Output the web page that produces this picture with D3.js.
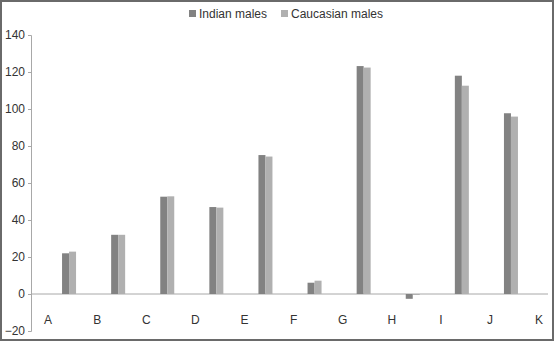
<!DOCTYPE html>
<html>
<head>
<meta charset="utf-8">
<script src="https://cdn.jsdelivr.net/npm/d3@7"></script>
<style>
  body { margin: 0; background: #fff; }
  text { font-family: "Liberation Sans", Arial, sans-serif; }
</style>
</head>
<body>
<div id="viz"></div>
<script>
const labels = ['A', 'B', 'C', 'D', 'E', 'F', 'G', 'H', 'I', 'J', 'K'];
const groups = ['A', 'B', 'C', 'D', 'E', 'F', 'G', 'H', 'I', 'J'];
const series = ['Indian males', 'Caucasian males'];
const indian = [22, 32, 52.6, 47, 75.1, 6.1, 123.2, -2.6, 118, 97.7];
const caucasian = [22.9, 32, 52.8, 46.7, 74.3, 7.2, 122.4, -0.5, 112.6, 95.9];
const yTicks = [-20, 0, 20, 40, 60, 80, 100, 120, 140];

const width = 554, height = 341;
const colors = d3.scaleOrdinal().domain(series).range(['#828282', '#b0b0b0']);

let svg = d3.select('#viz')
    .append('svg')
    .attr('width', width)
    .attr('height', height);

// frame
svg.append('rect')
    .attr('x', 1).attr('y', 1)
    .attr('width', width - 2).attr('height', height - 2)
    .attr('fill', '#fff')
    .attr('stroke', '#6a6a6a')
    .attr('stroke-width', 2);

let yScale = d3.scaleLinear()
    .domain([-20, 140])
    .range([331, 35]);

// label positions; bars sit to the right of each label
let xScale = d3.scaleBand()
    .domain(labels)
    .range([23.5, 23.5 + 49.1 * labels.length]);

let inner = d3.scaleBand()
    .domain(series)
    .range([14, 28]);

// y axis
let yAxis = d3.axisLeft(yScale)
    .tickValues(yTicks)
    .tickSize(3)
    .tickPadding(3);

let gy = svg.append('g')
    .attr('transform', 'translate(31,0)')
    .call(yAxis);
gy.select('.domain').attr('stroke', '#a8a8a8');
gy.selectAll('.tick line').attr('stroke', '#a8a8a8');
gy.selectAll('.tick text')
    .attr('fill', '#333')
    .style('font-size', '12px');

// zero line
svg.append('line')
    .attr('x1', 31).attr('x2', 548)
    .attr('y1', yScale(0)).attr('y2', yScale(0))
    .attr('stroke', '#a8a8a8');

const rows = groups.map((g, i) => ({ g: g, vals: [indian[i], caucasian[i]] }));

svg.selectAll('g.grp').data(rows)
    .enter()
    .append('g')
    .attr('class', 'grp')
    .attr('transform', (d) => 'translate(' + (xScale(d.g) + xScale.bandwidth() / 2) + ',0)')
    .selectAll('rect').data((d) => d.vals.map((v, j) => ({ s: series[j], v: v })))
    .enter()
    .append('rect')
    .attr('x', (d) => inner(d.s))
    .attr('width', inner.bandwidth())
    .attr('y', (d) => yScale(Math.max(0, d.v)))
    .attr('height', (d) => Math.abs(yScale(d.v) - yScale(0)))
    .attr('fill', (d) => colors(d.s));

// category labels
svg.selectAll('text.cat').data(labels)
    .enter()
    .append('text')
    .attr('class', 'cat')
    .attr('x', (d) => xScale(d) + xScale.bandwidth() / 2)
    .attr('y', 324)
    .attr('text-anchor', 'middle')
    .attr('fill', '#333')
    .style('font-size', '12px')
    .text((d) => d);

// legend
const legendX = [189, 281];
let lg = svg.selectAll('g.leg').data(series)
    .enter()
    .append('g')
    .attr('class', 'leg')
    .attr('transform', (d, i) => 'translate(' + legendX[i] + ',10)');
lg.append('rect')
    .attr('width', 7).attr('height', 7)
    .attr('y', 0)
    .attr('fill', (d) => colors(d));
lg.append('text')
    .attr('x', 10)
    .attr('y', 8)
    .attr('fill', '#333')
    .style('font-size', '12px')
    .text((d) => d);
</script>
</body>
</html>
